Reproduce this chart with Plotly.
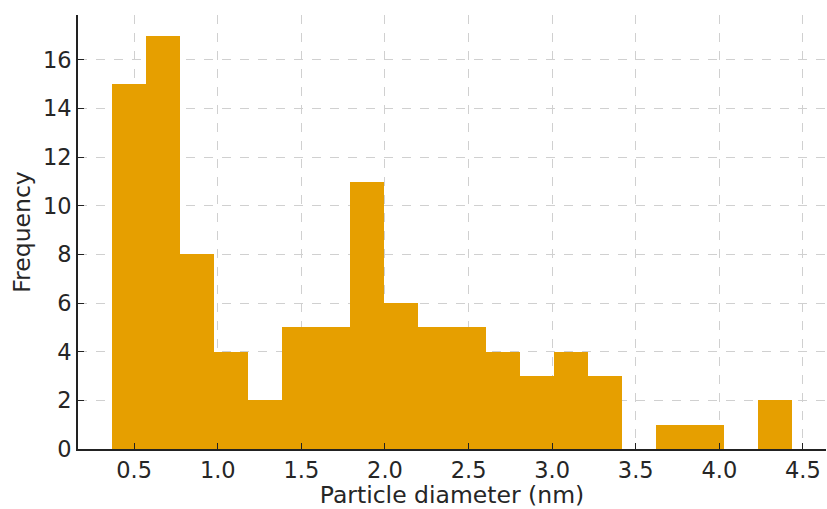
import plotly.graph_objects as go

# Histogram data
bin_start = 0.367
bin_width = 0.2034
counts = [15, 17, 8, 4, 2, 5, 5, 11, 6, 5, 5, 4, 3, 4, 3, 0, 1, 1, 0, 2]
x_ticks = [0.5, 1.0, 1.5, 2.0, 2.5, 3.0, 3.5, 4.0, 4.5]
y_ticks = [0, 2, 4, 6, 8, 10, 12, 14, 16]

centers = [bin_start + bin_width * (i + 0.5) for i in range(len(counts))]

font_fam = "DejaVu Sans"
txt = "#262626"

fig = go.Figure(go.Bar(
    x=centers, y=counts, width=[bin_width] * len(counts),
    marker=dict(color="#E69F00", line=dict(width=0)),
    hoverinfo="x+y",
))

fig.update_layout(
    width=827, height=509,
    margin=dict(l=78, r=1, t=15, b=60),
    plot_bgcolor="white", paper_bgcolor="white",
    bargap=0, showlegend=False,
    font=dict(family=font_fam, size=23, color=txt),
)
fig.update_xaxes(
    range=[0.164, 4.638], tickvals=x_ticks, ticktext=[f"{v:.1f}" for v in x_ticks],
    showline=True, linecolor="#222", linewidth=1.6,
    ticks="inside", ticklen=6, tickwidth=1.4, tickcolor="#222",
    showgrid=True, gridcolor="#d0d0d0", griddash="dash", gridwidth=1,
    zeroline=False,
    title=dict(text="Particle diameter (nm)", font=dict(size=23.5, color=txt), standoff=8),
    tickfont=dict(size=22.5, color=txt),
)
fig.update_yaxes(
    range=[0, 17.85], tickvals=y_ticks,
    showline=True, linecolor="#222", linewidth=1.6,
    ticks="inside", ticklen=6, tickwidth=1.4, tickcolor="#222",
    showgrid=True, gridcolor="#d0d0d0", griddash="dash", gridwidth=1,
    zeroline=False,
    title=dict(text="Frequency", font=dict(size=23.5, color=txt), standoff=6),
    tickfont=dict(size=22.5, color=txt),
)

fig.write_html("out.html")
